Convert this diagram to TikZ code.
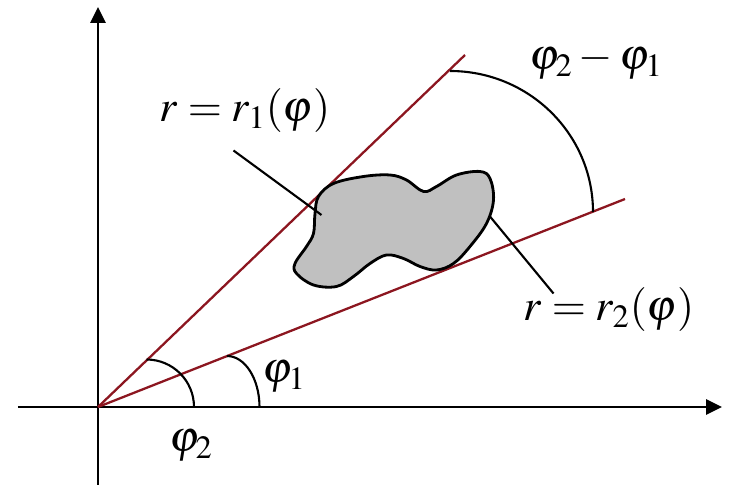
\documentclass[tikz,border=0pt]{standalone}
\usepackage{mathptmx}
\usetikzlibrary{arrows.meta}
\definecolor{raydark}{RGB}{140,22,32}
\definecolor{blobgray}{RGB}{192,192,192}
\begin{document}
\begin{tikzpicture}[>={Triangle[length=0.32cm,width=0.3cm]},every node/.style={font=\fontsize{25}{30}\selectfont}]
  \useasboundingbox (-1.96,-1.56) rectangle (12.7,8.14);
  \coordinate (O) at (0,0);
  % axes
  \draw[->,line width=1.5pt] (-1.6,0) -- (12.48,0);
  \draw[->,line width=1.5pt] (0,-1.56) -- (0,8.0);
  % rays
  \coordinate (U) at (7.34,7.04);
  \coordinate (L) at (10.54,4.16);
  \draw[raydark,line width=1.3pt] (O) -- (U);
  \draw[raydark,line width=1.3pt] (O) -- (L);
  % region
  \draw[line width=1.6pt,fill=blobgray] plot[smooth cycle,tension=0.6] coordinates {
    (4.41,4.21) (4.71,4.47) (5.31,4.61) (5.84,4.64) (6.17,4.54) (6.51,4.31)
    (6.77,4.41) (7.17,4.64) (7.64,4.71) (7.84,4.57) (7.91,4.14) (7.77,3.67)
    (7.44,3.21) (7.11,2.87) (6.77,2.74) (6.44,2.81) (6.11,2.97) (5.77,3.04)
    (5.44,2.87) (5.11,2.61) (4.77,2.41) (4.31,2.44) (3.97,2.67) (3.94,2.87)
    (4.17,3.21) (4.31,3.47) (4.34,3.87)};
  % angle arcs
  \coordinate (a1) at (2.58,1.02);
  \coordinate (a2) at (0.97,0.95);
  \coordinate (a3) at (7.04,6.72);
  \draw[line width=1.2pt] (a1) arc[start angle=90,end angle=0,x radius=0.65,y radius=1.02];
  \draw[line width=1.2pt] (a2) arc[start angle=90,end angle=0,x radius=0.95,y radius=0.95];
  \draw[line width=1.2pt] (a3) arc[start angle=90,end angle=0,x radius=2.86,y radius=2.82];
  % labels
  \node (r1lab) at (2.94,5.92) {$r=r_1(\varphi)$};
  \node (r2lab) at (10.22,1.94) {$r=r_2(\varphi)$};
  \node (difflab) at (9.96,6.9) {$\varphi_2-\varphi_1$};
  \node (p1lab) at (3.72,0.6) {$\varphi_1$};
  \node (p2lab) at (1.86,-0.78) {$\varphi_2$};
  % leaders
  \coordinate (l1a) at (2.71,5.13);
  \coordinate (l1b) at (4.47,3.84);
  \coordinate (l2a) at (7.84,3.81);
  \coordinate (l2b) at (9.11,2.27);
  \draw[line width=1.2pt] (l1a) -- (l1b);
  \draw[line width=1.2pt] (l2a) -- (l2b);
\end{tikzpicture}
\end{document}
